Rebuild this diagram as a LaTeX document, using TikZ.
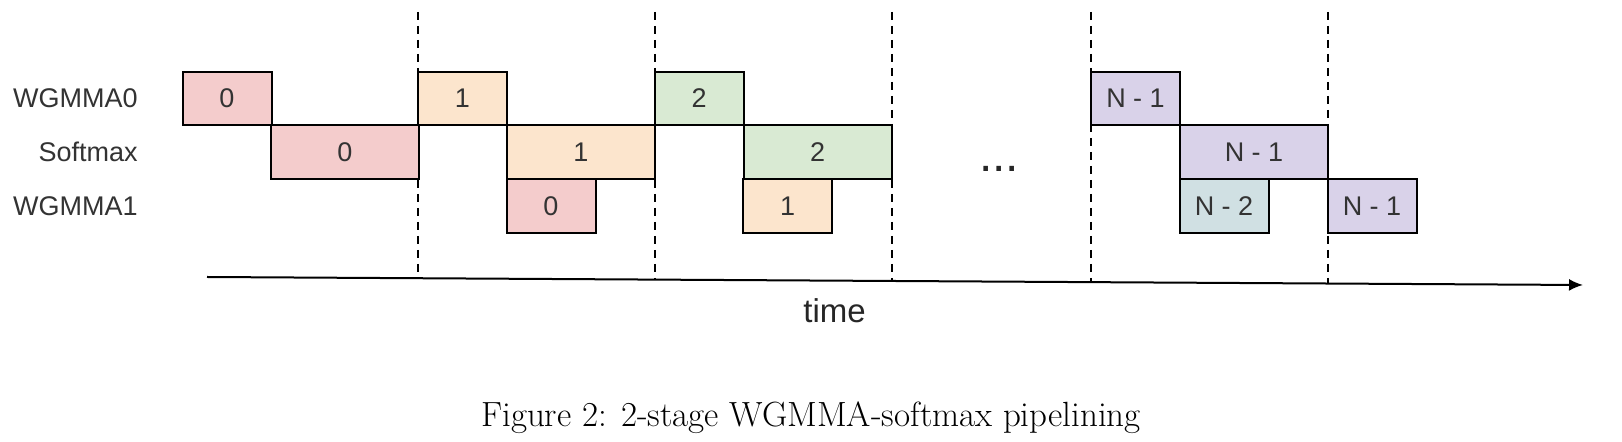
\documentclass[tikz,border=0pt]{standalone}
\usepackage{fontspec}
\setsansfont{Liberation Sans}
\usepackage{tikz}
\usetikzlibrary{arrows.meta}
\definecolor{stagezero}{HTML}{F4CCCC}
\definecolor{stageone}{HTML}{FCE5CD}
\definecolor{stagetwo}{HTML}{D9EAD3}
\definecolor{stagelast}{HTML}{D9D2E9}
\definecolor{stageprev}{HTML}{D0E0E3}

\begin{document}
\begin{tikzpicture}[x=0.5pt, y=-0.5pt,
    cell/.style={draw, line width=1pt, inner sep=0pt, minimum height=26.75pt,
        font=\sffamily\fontsize{13.5}{16}\selectfont, text=black!80},
    shortcell/.style={cell, minimum width=44.5pt},
    longcell/.style={cell, minimum width=74pt},
    rowname/.style={anchor=east, inner sep=0pt, font=\sffamily\fontsize{13.5}{16}\selectfont, text=black!80},
    sync/.style={dash pattern=on 4pt off 3pt, line width=0.7pt}]
                    \useasboundingbox (0,0) rectangle (1622,442);
                    \foreach \x/\yb in {418/278, 655/280, 892/281, 1091/282, 1328/284}
                        \draw[sync] (\x,12) -- (\x,\yb);
                    \coordinate (tstart) at (207,277);
                    \coordinate (tend) at (1583,285);
                    \draw[line width=1pt, -{Latex[length=7pt, width=6pt]}] (tstart) -- (tend);
                    \node[rowname] (wgmmazero) at (138,98.5) {WGMMA0};
                    \node[rowname] (softmax) at (138,152) {Softmax};
                    \node[rowname] (wgmmaone) at (138,206) {WGMMA1};
                    \node[shortcell, fill=stagezero] (wa0) at (227,98.5) {0};
                    \node[longcell, fill=stagezero] (sm0) at (345,152) {0};
                    \node[shortcell, fill=stageone] (wa1) at (462.5,98.5) {1};
                    \node[longcell, fill=stageone] (sm1) at (581,152) {1};
                    \node[shortcell, fill=stagezero] (wb0) at (551,206) {0};
                    \node[shortcell, fill=stagetwo] (wa2) at (699,98.5) {2};
                    \node[longcell, fill=stagetwo] (sm2) at (817.5,152) {2};
                    \node[shortcell, fill=stageone] (wb1) at (787.5,206) {1};
                    \node[anchor=base, font=\sffamily\fontsize{24}{28}\selectfont, text=black!85] (dots) at (999,172) {...};
                    \node[shortcell, fill=stagelast] (walast) at (1135.5,98.5) {N - 1};
                    \node[longcell, fill=stagelast] (smlast) at (1254,152) {N - 1};
                    \node[shortcell, fill=stageprev] (wbprev) at (1224,206) {N - 2};
                    \node[shortcell, fill=stagelast] (wblast) at (1372,206) {N - 1};
                    \node[anchor=base, font=\sffamily\fontsize{16.5}{20}\selectfont, text=black!85] (timelbl) at (834.5,323) {time};
                    \node[anchor=base, font=\fontsize{17.5}{21}\selectfont] (caption) at (811,427) {Figure 2: 2-stage WGMMA-softmax pipelining};
                \end{tikzpicture}
\end{document}
